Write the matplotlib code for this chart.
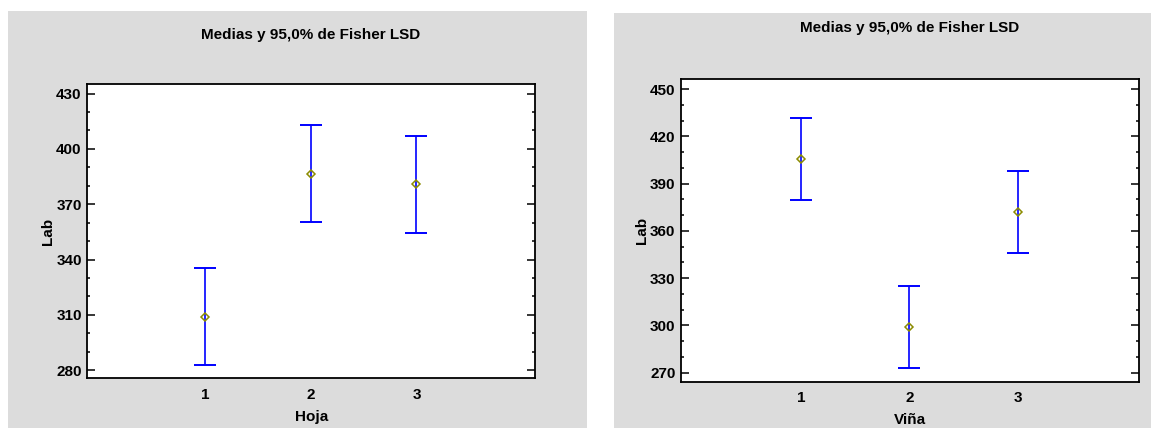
import matplotlib
matplotlib.use('Agg')
import matplotlib.pyplot as plt
from matplotlib.patches import Rectangle

plt.rcParams['font.family'] = ['Liberation Sans', 'DejaVu Sans']
plt.rcParams['font.weight'] = 'bold'

# medias y medio intervalo LSD (95%)
niveles = [1, 2, 3]
medias_hoja = [309.1, 386.6, 380.8]
lsd_hoja = [26.3, 26.3, 26.3]
medias_vina = [405.6, 299.2, 372.2]
lsd_vina = [26.0, 26.0, 26.0]

yticks_hoja = [280, 310, 340, 370, 400, 430]
yticks_vina = [270, 300, 330, 360, 390, 420, 450]

titulo = 'Medias y 95,0% de Fisher LSD'
gris = '#dcdcdc'

fig = plt.figure(figsize=(11.51, 4.28), dpi=100)
W, H = 1151, 428

# fondos grises de cada grafico (pixeles)
fig.patches.append(Rectangle((8 / W, 0), (586.7 - 8) / W, 1 - 11 / H,
                             transform=fig.transFigure, facecolor=gris,
                             edgecolor='none', zorder=-1))
fig.patches.append(Rectangle((614 / W, 0), (1151 - 614) / W, 1 - 13 / H,
                             transform=fig.transFigure, facecolor=gris,
                             edgecolor='none', zorder=-1))


def panel(rect, medias, lsd, xlabel, ylim, yticks, titulo_y, xpad):
    l, t, r, b = rect
    ax = fig.add_axes([l / W, 1 - b / H, (r - l) / W, (b - t) / H])
    ax.set_zorder(2)
    ax.errorbar(niveles, medias, yerr=lsd, fmt='none', ecolor='#0000ff',
                elinewidth=1.2, capsize=7.6, capthick=1.4, zorder=2)
    ax.plot(niveles, medias, linestyle='none', marker='D', markersize=4.2,
            markerfacecolor='none', markeredgecolor='#8c8c00',
            markeredgewidth=1.1, zorder=3)
    ax.set_xlim(-0.11, 4.12)
    ax.set_ylim(*ylim)
    ax.set_xticks(niveles)
    ax.set_yticks(yticks)
    paso = yticks[1] - yticks[0]
    menores = [v + k * paso / 3 for v in yticks for k in (1, 2)]
    ax.set_yticks([m for m in menores if m < ylim[1]], minor=True)
    ax.tick_params(axis='y', which='major', direction='in', length=5.5,
                   width=1.1, left=True, right=True, labelsize=11, pad=4)
    ax.tick_params(axis='y', which='minor', direction='in', length=2.3,
                   width=1.1, left=True, right=True)
    ax.tick_params(axis='x', length=0, labelsize=11, pad=7)
    for s in ax.spines.values():
        s.set_linewidth(1.3)
    ax.set_xlabel(xlabel, fontsize=11, fontweight='bold', labelpad=xpad)
    ax.set_ylabel('Lab', fontsize=11, fontweight='bold', labelpad=1)
    for lab in ax.get_xticklabels() + ax.get_yticklabels():
        lab.set_fontweight('bold')
    xc = ax.transData.transform((2, 0))[0]
    fig.text(xc / fig.dpi / fig.get_figwidth(), 1 - titulo_y / H, titulo,
             ha='center', va='center', fontsize=11, fontweight='bold')
    return ax


panel((87.3, 84.3, 535, 378.3), medias_hoja, lsd_hoja, 'Hoja',
      (275.6, 435.0), yticks_hoja, 35, 5.5)
panel((681, 79.3, 1139, 381.7), medias_vina, lsd_vina, 'Viña',
      (264.3, 456.2), yticks_vina, 28, 5.5)

fig.savefig('out.png', dpi=100)
